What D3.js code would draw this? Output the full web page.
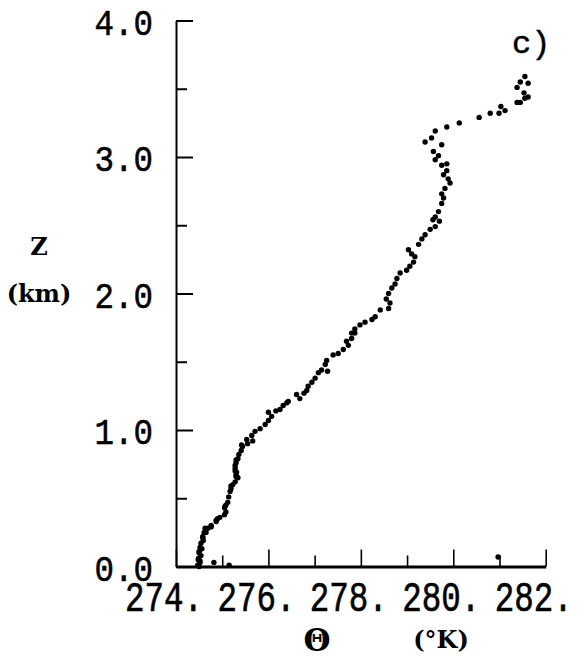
<!DOCTYPE html>
<html><head><meta charset="utf-8">
<script src="https://cdn.jsdelivr.net/npm/d3@7"></script>
<style>body{margin:0;background:#fff}svg{display:block}</style>
</head><body>
<svg id="chart" width="577" height="663"></svg>
<script>
// ---- data ----
const theta = [274.50,274.47,274.52,274.52,274.48,274.49,274.54,274.50,274.50,274.56,274.52,274.54,274.59,274.58,274.58,274.65,274.61,274.63,274.69,274.76,274.76,274.87,274.87,274.90,274.95,275.05,275.08,275.05,275.06,275.08,275.12,275.14,275.17,275.19,275.19,275.23,275.28,275.34,275.30,275.30,275.31,275.28,275.28,275.28,275.30,275.30,275.34,275.36,275.41,275.44,275.42,275.55,275.66,275.53,275.64,275.71,275.82,275.93,276.00,276.07,276.00,276.16,276.25,276.32,276.40,276.43,276.68,276.61,276.77,276.83,276.86,276.94,277.01,277.08,277.28,277.15,277.23,277.26,277.40,277.51,277.62,277.73,277.69,277.80,277.87,277.80,277.87,277.98,278.09,278.24,278.31,278.42,278.60,278.63,278.55,278.60,278.67,278.74,278.78,278.85,278.99,279.06,279.14,279.17,279.10,279.03,279.25,279.32,279.39,279.50,279.61,279.70,279.56,279.61,279.68,279.75,279.79,279.75,279.82,279.93,279.89,279.79,279.86,279.75,279.86,279.61,279.68,279.57,279.75,279.39,279.53,279.61,279.86,280.13,280.56,280.80,280.99,281.12,281.03,281.38,281.45,281.55,281.62,281.53,281.38,281.62,281.45,281.55,274.82,275.15,280.97];
const height = [0.00,0.01,0.03,0.04,0.05,0.06,0.08,0.10,0.11,0.13,0.14,0.17,0.19,0.21,0.22,0.25,0.25,0.28,0.28,0.29,0.30,0.33,0.34,0.35,0.36,0.38,0.40,0.43,0.44,0.45,0.47,0.51,0.55,0.57,0.59,0.60,0.62,0.65,0.66,0.67,0.69,0.70,0.72,0.74,0.76,0.78,0.79,0.82,0.85,0.88,0.89,0.90,0.92,0.93,0.96,0.99,1.01,1.04,1.07,1.10,1.13,1.14,1.15,1.18,1.20,1.21,1.23,1.26,1.27,1.29,1.32,1.35,1.38,1.42,1.43,1.44,1.48,1.51,1.55,1.56,1.59,1.62,1.65,1.67,1.71,1.71,1.74,1.77,1.79,1.81,1.83,1.88,1.89,1.93,1.96,2.00,2.04,2.07,2.11,2.15,2.17,2.20,2.23,2.27,2.29,2.32,2.36,2.40,2.43,2.47,2.49,2.53,2.54,2.56,2.60,2.66,2.70,2.73,2.77,2.81,2.84,2.87,2.90,2.94,2.95,2.98,3.01,3.04,3.09,3.11,3.14,3.19,3.22,3.25,3.29,3.32,3.32,3.34,3.37,3.40,3.40,3.43,3.44,3.47,3.51,3.54,3.55,3.59,0.03,0.01,0.07];
const yTickValues = [0,1,2,3,4];
const yTickLabels = ["0.0","1.0","2.0","3.0","4.0"];
const xTickValues = [274,276,278,280,282];
const xTickLabels = ["274.","276.","278.","280.","282."];
const yMinor = [0.5,1.5,2.5,3.5];
const xMinor = [275,277,279,281];

// ---- drawing ----
const svg = d3.select("#chart");
const x = d3.scaleLinear().domain([274,282]).range([176,545.7]);
const y = d3.scaleLinear().domain([0,4]).range([566.5,20.5]);
const mono = "'Liberation Mono', 'DejaVu Sans Mono', monospace";
const serif = "'DejaVu Serif', 'Liberation Serif', serif";

// Y axis (ticks point inward)
const gy = svg.append("g").attr("transform","translate(176,0)");
gy.call(d3.axisLeft(y).tickValues(yTickValues).tickSizeInner(-17).tickSizeOuter(0).tickFormat(""));
gy.append("g").call(d3.axisLeft(y).tickValues(yMinor).tickSizeInner(-11).tickSizeOuter(0).tickFormat(""))
  .select(".domain").remove();
gy.selectAll("path,line").attr("stroke","#000").attr("stroke-width",2);

// X axis
const gx = svg.append("g").attr("transform","translate(0,566.5)");
gx.call(d3.axisBottom(x).tickValues(xTickValues).tickSizeInner(-17).tickSizeOuter(0).tickFormat(""));
gx.append("g").call(d3.axisBottom(x).tickValues(xMinor).tickSizeInner(-11).tickSizeOuter(0).tickFormat(""))
  .select(".domain").remove();
gx.selectAll("line").attr("stroke","#000").attr("stroke-width",1.6);
gx.select(".domain").attr("stroke","#000").attr("stroke-width",3);

// tick labels
svg.append("g").selectAll("text").data(yTickValues).join("text")
  .attr("transform", d => `translate(153,${y(d)+14}) scale(1,1.12)`)
  .attr("text-anchor","end").attr("font-family",mono).attr("font-size",32.5)
  .attr("fill","#000").attr("stroke","#000").attr("stroke-width",0.5)
  .text((d,i)=>yTickLabels[i]);
svg.append("g").selectAll("text").data(xTickValues).join("text")
  .attr("transform", d => `translate(${x(d)+27},611) scale(1,1.3)`)
  .attr("text-anchor","end").attr("font-family",mono).attr("font-size",32.5)
  .attr("fill","#000").attr("stroke","#000").attr("stroke-width",0.5)
  .text((d,i)=>xTickLabels[i]);

// axis titles
svg.append("text").attr("x",39).attr("y",255).attr("text-anchor","middle")
  .attr("font-family",serif).attr("font-weight","bold").attr("font-size",24).text("Z");
svg.append("text").attr("x",39).attr("y",302).attr("text-anchor","middle")
  .attr("font-family",serif).attr("font-weight","bold").attr("font-size",24).text("(km)");
svg.append("text").attr("x",317).attr("y",651).attr("text-anchor","middle")
  .attr("font-family",serif).attr("font-weight","bold").attr("font-size",31).text("Θ");
svg.append("text").attr("x",441).attr("y",648).attr("text-anchor","middle")
  .attr("font-family",serif).attr("font-weight","bold").attr("font-size",24).text("(°K)");
svg.append("text").attr("x",512).attr("y",53)
  .attr("font-family",mono).attr("font-size",32).attr("stroke","#000").attr("stroke-width",0.5).text("c)");

// points
svg.append("g").selectAll("circle").data(theta.map((t,i)=>[t,height[i]])).join("circle")
  .attr("cx",d=>x(d[0])).attr("cy",d=>y(d[1])).attr("r",2.7).attr("fill","#000");
</script>
</body></html>
